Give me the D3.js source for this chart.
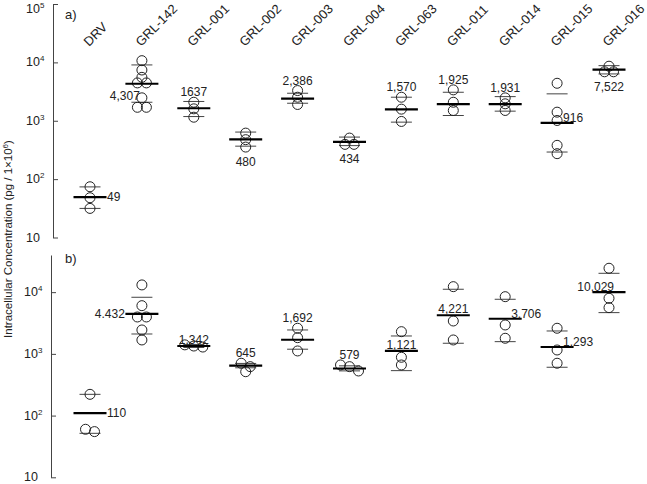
<!DOCTYPE html>
<html>
<head>
<meta charset="utf-8">
<script src="https://cdn.jsdelivr.net/npm/d3@7"></script>
<style>
  body { margin: 0; background: #fff; }
  text { font-family: "Liberation Sans", Arial, sans-serif; fill: #222; }
</style>
</head>
<body>
<div id="chart"></div>
<script>
var svgWidth = 647;
var svgHeight = 484;

// compounds
var categories = ["DRV", "GRL-142", "GRL-001", "GRL-002", "GRL-003", "GRL-004",
  "GRL-063", "GRL-011", "GRL-014", "GRL-015", "GRL-016"];

// panel a) individual values
var pointsA = [
  [74, 48, 31.5],
  [10700, 7400, 5540, 4450, 4450, 2470, 1700, 1700],
  [2075, 1600, 1150],
  [614, 474, 354],
  [3290, 2530, 1900],
  [505, 394, 394],
  [2530, 1580, 973],
  [3380, 2075, 1500],
  [2466, 1950, 1500],
  [4385, 1403, 1011, 379, 273],
  [8600, 6900, 6900]
];
var meansA = [49, 4307, 1637, 480, 2386, 434, 1570, 1925, 1931, 916, 7522];
var sdHiA = [73.6, 9040, 2140, 640, 2960, 525, 2530, 3077, 2590, 2890, 8790];
var sdLoA = [31.5, 2075, 1180, 367, 1995, 375, 947, 1230, 1460, 291, 6340];
var labelsA = ["49", "4,307", "1637", "480", "2,386", "434", "1,570", "1,925", "1,931", "916", "7,522"];
var placeA = ["right", "leftBelow", "above", "below", "above", "below", "above", "above", "above", "upRight", "below"];

// panel b) individual values
var pointsB = [
  [221, 60, 55],
  [13100, 6040, 3960, 3960, 2440, 1680],
  [1400, 1340, 1290],
  [705, 621, 514],
  [2600, 1830, 1115],
  [661, 621, 528],
  [2290, 881, 661],
  [12280, 3410, 1680],
  [8450, 2940, 1790],
  [2600, 1156, 705],
  [24400, 7960, 5610]
];
var meansB = [110, 4432, 1342, 645, 1692, 579, 1121, 4221, 3706, 1293, 10029];
var sdHiB = [221, 8260, 1420, 700, 2440, 640, 1950, 11140, 7670, 2350, 20200];
var sdLoB = [51.6, 2100, 1270, 595, 1190, 530, 535, 1486, 1578, 607, 4660];
var labelsB = ["110", "4.432", "1,342", "645", "1,692", "579", "1,121", "4,221", "3,706", "1,293", "10,029"];
var placeB = ["right", "left", "onLine", "above", "above", "above", "onLine", "onLine", "upRight", "upRight", "upLeft"];

var tickExp = {10: "", 100: "2", 1000: "3", 10000: "4", 100000: "5"};

var svg = d3.select("#chart")
  .append("svg")
  .attr("width", svgWidth)
  .attr("height", svgHeight);

var xScale = d3.scalePoint()
  .domain(categories)
  .range([90, 609]);

var r = 5;

// spread circles that sit at (nearly) the same height side by side
function dodge(vals, y) {
  var pts = vals.map(v => ({ v: v, y: y(v), dx: 0 }))
    .sort((a, b) => a.y - b.y);
  var groups = [];
  pts.forEach(function(p) {
    var g = groups[groups.length - 1];
    if (g && p.y - g[g.length - 1].y < 4.5) g.push(p);
    else groups.push([p]);
  });
  groups.forEach(function(g) {
    g.forEach(function(p, i) { p.dx = (i - (g.length - 1) / 2) * 9; });
  });
  return pts;
}

function drawPanel(opts) {
  var y = opts.y;
  var g = svg.append("g");

  // y axis
  var axis = d3.axisLeft(y)
    .tickValues(opts.ticks)
    .tickSizeInner(-5)
    .tickSizeOuter(0)
    .tickFormat("");

  var axisG = g.append("g")
    .attr("transform", `translate(${opts.axisX}, 0)`)
    .call(axis);
  axisG.select(".domain").attr("stroke", "#444");
  axisG.selectAll(".tick line").attr("stroke", "#444");
  axisG.selectAll(".tick text").remove();

  opts.ticks.forEach(function(t) {
    var lab = g.append("text")
      .attr("x", opts.axisX - 27)
      .attr("y", Math.max(y(t) + 4, 13))
      .attr("font-size", "12.5px");
    lab.append("tspan").text("10");
    if (tickExp[t]) {
      lab.append("tspan")
        .attr("dy", "-5")
        .attr("font-size", "8px")
        .text(tickExp[t]);
    }
  });

  g.append("text")
    .attr("x", 65)
    .attr("y", opts.tagY)
    .attr("font-size", "13px")
    .text(opts.tag);

  categories.forEach(function(c, i) {
    var cx = xScale(c);

    // sd lines
    [opts.sdHi[i], opts.sdLo[i]].forEach(function(v) {
      g.append("line")
        .attr("x1", cx - 10.5)
        .attr("x2", cx + 10.5)
        .attr("y1", y(v))
        .attr("y2", y(v))
        .attr("stroke", "#444")
        .attr("stroke-width", 1);
    });

    // individual values
    var pts = dodge(opts.points[i], y);
    g.selectAll(null)
      .data(pts)
      .enter()
      .append("circle")
      .attr("cx", d => cx + d.dx)
      .attr("cy", d => d.y)
      .attr("r", r)
      .attr("fill", "none")
      .attr("stroke", "#222")
      .attr("stroke-width", 1);

    // mean line
    var my = y(opts.means[i]);
    g.append("line")
      .attr("x1", cx - 16.5)
      .attr("x2", cx + 16.5)
      .attr("y1", my)
      .attr("y2", my)
      .attr("stroke", "#000")
      .attr("stroke-width", 2.2);

    // value label
    var top = d3.min(pts, d => d.y);
    var bottom = d3.max(pts, d => d.y);
    var lx = cx, ly = my, anchor = "middle";
    var p = opts.place[i];
    if (p === "right") { lx = cx + 17; ly = my + 4; anchor = "start"; }
    else if (p === "left") { lx = cx - 17; ly = my + 4; anchor = "end"; }
    else if (p === "leftBelow") { lx = cx - 2; ly = my + 16; anchor = "end"; }
    else if (p === "above") { ly = top - r - 1; }
    else if (p === "below") { ly = bottom + r + 14; }
    else if (p === "onLine") { ly = my - 2; }
    else if (p === "upRight") { lx = cx + 6; ly = my - 1; anchor = "start"; }
    else if (p === "upLeft") { lx = cx + 5; ly = my - 1; anchor = "end"; }

    g.append("text")
      .attr("x", lx)
      .attr("y", ly)
      .attr("text-anchor", anchor)
      .attr("font-size", "12px")
      .text(opts.labels[i]);
  });
}

var yA = d3.scaleLog().domain([10, 100000]).range([237.5, 4]);
var yB = d3.scaleLog().domain([10, 40000]).range([477.3, 255]);

drawPanel({
  y: yA, axisX: 53, ticks: [10, 100, 1000, 10000, 100000],
  tag: "a)", tagY: 19,
  points: pointsA, means: meansA, sdHi: sdHiA, sdLo: sdLoA,
  labels: labelsA, place: placeA
});

drawPanel({
  y: yB, axisX: 51, ticks: [10, 100, 1000, 10000],
  tag: "b)", tagY: 263,
  points: pointsB, means: meansB, sdHi: sdHiB, sdLo: sdLoB,
  labels: labelsB, place: placeB
});

// compound names, slanted, above panel a)
svg.selectAll(".cat")
  .data(categories)
  .enter()
  .append("text")
  .attr("class", "cat")
  .attr("transform", d => `translate(${xScale(d) - 1}, 47) rotate(-45)`)
  .attr("font-size", "13px")
  .text(d => d);

// y axis title
var yTitle = svg.append("text")
  .attr("transform", "translate(12, 239) rotate(-90)")
  .attr("text-anchor", "middle")
  .attr("font-size", "11.5px");
yTitle.append("tspan").text("Intracellular Concentration (pg / 1×10");
yTitle.append("tspan").attr("dy", "-4").attr("font-size", "8px").text("6");
yTitle.append("tspan").attr("dy", "4").text(")");
</script>
</body>
</html>
